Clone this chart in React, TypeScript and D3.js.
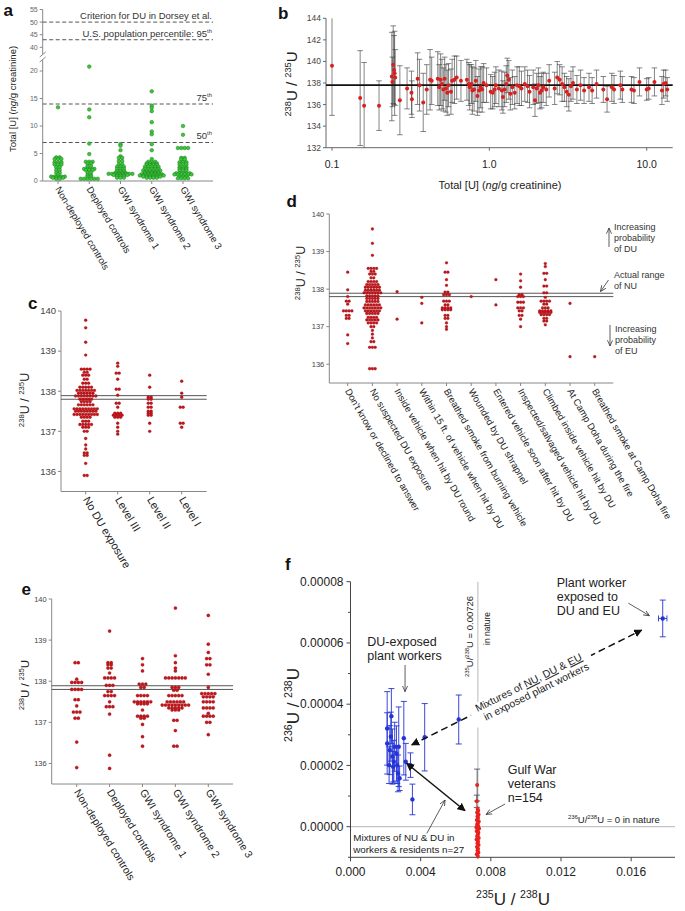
import React from 'react';
import * as d3 from 'd3';

const FONT = '"Liberation Sans", Arial, sans-serif';

// ---------- panel a : total [U] per group ----------
const aGroups = ['Non-deployed controls', 'Deployed controls', 'GWI syndrome 1', 'GWI syndrome 2', 'GWI syndrome 3'];
// [value, number of subjects at that value]
const aValues: [number, number][][] = [
  [[13.4, 1], [4.3, 2], [4.0, 3], [3.4, 3], [3.0, 3], [2.5, 2], [2.0, 2], [1.5, 2], [1.2, 1], [0.8, 5], [0.6, 4], [0.4, 2]],
  [[20.8, 1], [13.0, 1], [11.6, 1], [6.8, 1], [4.9, 1], [3.5, 3], [3.2, 2], [2.7, 2], [2.2, 4], [2.0, 3], [1.5, 2], [1.0, 2], [0.8, 2], [0.4, 6]],
  [[6.7, 1], [6.4, 1], [5.6, 1], [4.5, 1], [4.2, 2], [3.6, 2], [3.0, 2], [2.6, 3], [2.2, 3], [1.8, 3], [1.5, 4], [1.3, 8], [1.1, 5], [0.9, 3], [0.6, 3]],
  [[16.3, 1], [13.7, 1], [13.3, 1], [12.7, 1], [10.7, 1], [9.0, 1], [8.5, 1], [6.7, 1], [5.6, 1], [4.0, 1], [3.5, 3], [3.2, 4], [2.9, 4], [2.6, 5], [2.2, 5], [1.9, 6], [1.6, 5], [1.4, 5], [1.2, 7], [1.0, 8], [0.8, 6], [0.6, 4]],
  [[10.0, 1], [8.4, 1], [6.0, 4], [4.2, 2], [3.9, 2], [3.4, 3], [3.0, 3], [2.5, 3], [2.2, 3], [1.9, 3], [1.4, 5], [1.2, 6], [0.8, 3], [0.5, 4]],
];
const aTicksLow = [0, 5, 10, 15, 20];
const aTicksHigh = [40, 45, 50, 55];
const aRefHigh = [50, 43];
const aRefLow = [14, 7];

// ---------- panel b : ratio vs total U ----------
// [total U, 238/235 ratio, error]
const bPoints: [number, number, number][] = [
  [0.1, 139.6, 4.6], [0.151, 136.6, 4.4], [0.16, 135.9, 4.0], [0.199, 135.9, 2.3],
  [0.24, 138.6, 4.1], [0.242, 138.1, 2.3], [0.245, 139.7, 3.6], [0.248, 139.2, 3.2], [0.25, 138.9, 3.9], [0.252, 138.5, 2.6],
  [0.27, 136.4, 3.2], [0.3, 137.5, 1.9], [0.32, 137.1, 2.0], [0.322, 136.5, 1.7], [0.35, 138.4, 2.4], [0.36, 137.8, 2.4],
  [0.38, 136.2, 2.7], [0.4, 137.4, 2.3], [0.42, 138.3, 2.8], [0.43, 138.2, 2.2],
  [0.47, 138.4, 2.5], [0.48, 137.6, 2.1], [0.49, 138.3, 2.4], [0.5, 137.9, 2.3], [0.51, 137.4, 2.0], [0.52, 138.4, 2.0],
  [0.53, 137.5, 2.2], [0.54, 137.1, 2.1], [0.55, 137.8, 2.0], [0.57, 137.2, 2.1], [0.58, 138.2, 2.0], [0.6, 138.3, 2.2],
  [0.62, 138.5, 2.0], [0.66, 138.2, 1.9],
  [0.72, 138.3, 1.9], [0.74, 137.9, 2.0], [0.75, 137.6, 2.1], [0.77, 137.9, 1.8], [0.78, 137.3, 2.2], [0.8, 137.4, 2.0],
  [0.82, 138.2, 1.9], [0.84, 136.8, 1.8], [0.86, 137.3, 2.0], [0.88, 137.6, 1.9], [0.9, 137.4, 2.1], [0.92, 138.0, 1.8], [0.96, 137.8, 1.6],
  [1.02, 137.2, 1.6], [1.05, 137.1, 1.5], [1.08, 137.4, 1.6], [1.1, 137.8, 1.7], [1.15, 137.5, 1.7], [1.2, 137.3, 1.8],
  [1.22, 136.7, 1.5], [1.25, 137.4, 1.6], [1.28, 137.9, 1.7], [1.3, 138.7, 1.6], [1.33, 138.3, 1.8], [1.36, 137.0, 1.5],
  [1.4, 137.6, 1.6], [1.45, 137.1, 1.5], [1.5, 137.8, 1.7], [1.55, 137.7, 1.8],
  [1.6, 137.5, 1.6], [1.68, 137.9, 1.6], [1.75, 137.7, 1.5], [1.8, 137.2, 1.5], [1.9, 137.6, 1.6], [1.95, 136.4, 1.5],
  [2.0, 137.5, 1.4], [2.05, 137.8, 1.6], [2.1, 137.1, 1.5], [2.15, 137.3, 1.6], [2.2, 137.6, 1.4], [2.3, 137.4, 1.5], [2.4, 138.2, 1.5],
  [2.6, 137.5, 1.5], [2.7, 138.5, 1.5], [2.8, 138.3, 1.4], [2.9, 137.9, 1.6], [3.0, 137.6, 1.3], [3.1, 137.2, 1.4],
  [3.2, 136.9, 1.5], [3.3, 137.7, 1.4], [3.4, 138.0, 1.5], [3.6, 137.4, 1.3], [3.8, 137.8, 1.4], [4.0, 137.3, 1.2],
  [4.3, 137.6, 1.3], [4.5, 137.3, 1.2], [4.8, 137.9, 1.3], [5.3, 137.4, 1.2], [5.6, 136.5, 1.2], [6.0, 137.6, 1.3],
  [6.2, 137.4, 1.3], [6.8, 137.8, 1.3], [7.0, 137.4, 1.2],
  [8.0, 137.4, 1.2], [8.3, 137.3, 1.2], [9.0, 138.1, 1.3], [10.0, 137.4, 1.0], [10.3, 137.5, 1.0], [11.2, 138.1, 1.3],
  [12.5, 137.3, 1.3], [12.8, 137.9, 1.3], [13.2, 138.0, 1.2], [13.5, 137.4, 1.1],
];
const bTicksX = [0.1, 1, 10];
const bTicksY = [132, 134, 136, 138, 140, 142, 144];
const bNatural = 137.8;

// ---------- panels c, d, e : ratio dot plots ----------
const nuRange = [137.8, 137.89];
const ratioTicks = [136, 137, 138, 139, 140];

const cCats = ['No DU exposure', 'Level III', 'Level II', 'Level I'];
const cValues: [number, number][][] = [
  [[139.77, 1], [139.58, 1], [139.22, 1], [138.9, 1], [138.55, 4], [138.47, 2], [138.4, 3], [138.3, 2], [138.2, 3], [138.1, 5],
   [138.02, 7], [137.95, 6], [137.88, 8], [137.8, 5], [137.74, 4], [137.66, 6], [137.56, 9], [137.5, 8], [137.42, 9], [137.35, 4],
   [137.25, 3], [137.17, 5], [137.1, 3], [137.0, 2], [136.82, 1], [136.66, 1], [136.56, 1], [136.46, 2], [136.4, 2], [136.2, 1], [135.9, 2]],
  [[138.7, 1], [138.62, 1], [138.45, 2], [138.3, 1], [138.05, 2], [137.9, 1], [137.7, 2], [137.6, 1], [137.45, 3], [137.4, 4],
   [137.35, 3], [137.2, 1], [137.1, 1], [137.0, 1], [136.93, 1]],
  [[138.4, 1], [138.1, 1], [137.85, 2], [137.8, 2], [137.7, 2], [137.6, 2], [137.5, 2], [137.45, 2], [137.4, 2], [137.2, 1], [137.0, 1]],
  [[138.25, 1], [137.95, 1], [137.85, 1], [137.6, 2], [137.2, 2], [137.1, 1]],
];

const dCats = [
  "Don't know or declined to answer",
  'No suspected DU exposure',
  'Inside vehicle when hit by DU round',
  'Within 15 ft. of vehicle when hit by DU',
  'Breathed smoke from burning vehicle',
  'Wounded by DU shrapnel',
  'Entered vehicle soon after hit by DU',
  'Inspected/salvaged vehicle hit by DU',
  'Climbed inside vehicle hit by DU',
  'At Camp Doha during the fire',
  'Breathed smoke at Camp Doha fire',
];
const dValues: [number, number][][] = [
  [[138.45, 1], [137.98, 1], [137.8, 1], [137.68, 2], [137.6, 1], [137.42, 4], [137.3, 2], [137.22, 2], [136.78, 1], [136.55, 1]],
  [[139.6, 1], [139.22, 1], [138.9, 1], [138.55, 4], [138.47, 2], [138.4, 3], [138.3, 2], [138.2, 4], [138.12, 5], [138.05, 6],
   [137.97, 6], [137.9, 7], [137.82, 5], [137.75, 5], [137.67, 5], [137.58, 6], [137.5, 7], [137.42, 6], [137.35, 5], [137.25, 4],
   [137.18, 5], [137.1, 4], [137.0, 2], [136.9, 1], [136.8, 1], [136.7, 1], [136.6, 2], [136.45, 3], [135.88, 3]],
  [[137.93, 1], [137.2, 1]],
  [[137.78, 1], [137.62, 1], [137.1, 1]],
  [[138.7, 1], [138.45, 2], [138.25, 1], [138.1, 1], [137.92, 2], [137.85, 3], [137.68, 3], [137.58, 2], [137.5, 4], [137.45, 4],
   [137.3, 2], [137.22, 2], [137.1, 1], [137.0, 1], [136.93, 1]],
  [[137.8, 1]],
  [[138.25, 1], [137.58, 1]],
  [[138.4, 1], [138.22, 1], [138.05, 1], [137.85, 2], [137.8, 3], [137.65, 3], [137.5, 3], [137.42, 2], [137.3, 2], [137.2, 1], [137.0, 1]],
  [[138.68, 1], [138.6, 1], [138.42, 2], [138.25, 1], [138.08, 2], [137.9, 2], [137.78, 1], [137.68, 4], [137.6, 2], [137.5, 3],
   [137.42, 5], [137.38, 5], [137.32, 4], [137.22, 2], [137.15, 2], [137.05, 1]],
  [[137.62, 1], [136.2, 1]],
  [[136.2, 1]],
];

const eCats = aGroups;
const eValues: [number, number][][] = [
  [[138.45, 2], [138.05, 1], [137.97, 4], [137.8, 4], [137.55, 2], [137.4, 1], [137.25, 3], [137.1, 2], [136.52, 1], [135.9, 1]],
  [[139.22, 1], [138.45, 2], [138.4, 2], [138.32, 2], [138.2, 1], [138.08, 4], [137.9, 3], [137.75, 2], [137.65, 4], [137.5, 1],
   [137.38, 3], [137.2, 1], [136.2, 1], [135.88, 1]],
  [[138.55, 1], [138.4, 1], [138.25, 1], [137.93, 3], [137.85, 2], [137.65, 4], [137.5, 6], [137.45, 4], [137.3, 1], [137.15, 4],
   [137.1, 2], [136.95, 1], [136.65, 1], [136.42, 1]],
  [[139.78, 1], [138.62, 1], [138.45, 1], [138.32, 1], [138.25, 1], [138.08, 7], [137.85, 3], [137.78, 2], [137.65, 5], [137.5, 6],
   [137.42, 9], [137.35, 5], [137.3, 3], [137.05, 2], [136.8, 1], [136.42, 2]],
  [[139.6, 1], [138.9, 1], [138.7, 1], [138.55, 2], [138.4, 2], [138.17, 1], [137.85, 1], [137.7, 5], [137.62, 4], [137.5, 4],
   [137.35, 4], [137.22, 1], [137.15, 4], [137.0, 2], [136.7, 1]],
];

// ---------- panel f : 236/238 vs 235/238 ----------
// [235/238, 236/238, y error, x error]
const fWorkers: [number, number, number, number][] = [
  [0.00209, 0.0000321, 0.000012, 0], [0.00209, 0.0000272, 0.00001, 0], [0.00224, 0.000025, 0.000008, 0],
  [0.00233, 0.0000361, 0.000009, 0], [0.0023, 0.0000294, 0.000008, 0], [0.00239, 0.0000229, 0.000009, 0],
  [0.00247, 0.0000212, 0.000007, 0], [0.00252, 0.0000261, 0.000008, 0], [0.00262, 0.0000239, 0.000009, 0],
  [0.00266, 0.0000201, 0.000006, 0], [0.00271, 0.0000174, 0.000006, 0], [0.00275, 0.0000261, 0.000013, 0],
  [0.0028, 0.0000158, 0.000004, 0], [0.0022, 0.0000201, 0.000006, 0], [0.00243, 0.0000196, 0.000005, 0],
  [0.00304, 0.0000289, 0.000012, 0], [0.00315, 0.0000212, 0.000006, 0], [0.00342, 0.0000201, 0.000004, 0],
  [0.00353, 0.0000089, 0.000005, 0], [0.00423, 0.0000292, 0.000011, 0], [0.00617, 0.000035, 0.000008, 0],
  [0.0178, 0.000068, 0.000006, 0.00024],
];
const fVeterans: [number, number, number][] = [
  [0.00722, 0.0000136, 0.0000052], [0.0072, 0.0000083, 0.000002], [0.00725, 0.0000058, 0.000001], [0.00728, 0.0000052, 0.000001],
  [0.00722, 0.0000046, 0.000001], [0.0073, 0.000004, 0.000001], [0.00724, 0.0000034, 0.000001], [0.00727, 0.0000028, 0.000001],
  [0.0072, 0.0000022, 0.000001], [0.00731, 0.0000017, 0.000001], [0.00725, 0.0000011, 0.000001], [0.00722, 0.0000006, 0.000001],
  [0.00728, 0.0000002, 0.000001], [0.00718, -0.0000002, 0.000001], [0.00733, -0.0000006, 0.000001], [0.00724, -0.000001, 0.000001],
  [0.0072, -0.0000015, 0.000001], [0.00729, -0.000002, 0.000001], [0.00726, -0.0000026, 0.000001], [0.00722, -0.0000031, 0.000001],
  [0.00731, -0.0000037, 0.000001], [0.00719, -0.0000042, 0.000001], [0.00727, -0.0000048, 0.000001], [0.00724, -0.0000054, 0.000001],
  [0.0073, -0.000006, 0.000001], [0.00721, -0.0000066, 0.000001], [0.00727, -0.0000072, 0.000001], [0.00724, -0.0000078, 0.000001],
  [0.00729, -0.0000084, 0.000001], [0.0072, -0.000009, 0.000001], [0.00726, -0.0000096, 0.000001],
];
const fTicksX = [0, 0.004, 0.008, 0.012, 0.016];
const fTicksY = [0, 0.00002, 0.00004, 0.00006, 0.00008];
const fMinorY = [-0.00001, 0.00001, 0.00003, 0.00005, 0.00007];
const fNatural235 = 0.00726;

// text with superscripts: '^238' means superscript
const Iso = ({ segs, fs }: { segs: string[]; fs: number }) => {
  let shift = 0;
  return (
    <>
      {segs.map((s, i) => {
        const sup = s.startsWith('^');
        const target = sup ? -fs * 0.42 : 0;
        const dy = target - shift;
        shift = target;
        return (
          <tspan key={i} dy={dy} fontSize={sup ? fs * 0.62 : fs}>
            {sup ? s.slice(1) : s}
          </tspan>
        );
      })}
    </>
  );
};

const R85 = ['^238', 'U', ' / ', '^235', 'U'];

const rows = (list: [number, number][], cx: number, y: (v: number) => number, step: number) => {
  const out: { x: number; y: number }[] = [];
  list.forEach(([v, n]) => {
    for (let i = 0; i < n; i++) out.push({ x: cx + (i - (n - 1) / 2) * step, y: y(v) });
  });
  return out;
};

const PanelA = () => {
  const yLow = d3.scaleLinear().domain([0, 22]).range([181, 60]);
  const yHigh = d3.scaleLinear().domain([40, 55]).range([47.3, 9.5]);
  const x = d3.scalePoint<string>().domain(aGroups).range([58, 183]);
  const L = 42.7, R = 213, B = 181;
  const ax = '#888';
  return (
    <g fontFamily={FONT}>
      <line x1={L} x2={L} y1={9.5} y2={54} stroke={ax} />
      <line x1={L} x2={L} y1={60} y2={B} stroke={ax} />
      <line x1={L - 3} x2={L + 3} y1={57} y2={52} stroke={ax} />
      <line x1={L - 3} x2={L + 3} y1={62} y2={57} stroke={ax} />
      <line x1={L} x2={R} y1={B} y2={B} stroke={ax} />
      {aTicksHigh.map((t) => (
        <g key={'h' + t}>
          <line x1={L - 3} x2={L} y1={yHigh(t)} y2={yHigh(t)} stroke={ax} />
          <text x={L - 5} y={yHigh(t)} dy="0.35em" textAnchor="end" fontSize={7} fill="#666">{t}</text>
        </g>
      ))}
      {aTicksLow.map((t) => (
        <g key={'l' + t}>
          <line x1={L - 3} x2={L} y1={yLow(t)} y2={yLow(t)} stroke={ax} />
          <text x={L - 5} y={yLow(t)} dy="0.35em" textAnchor="end" fontSize={7} fill="#666">{t}</text>
        </g>
      ))}
      {aRefHigh.map((v) => (
        <line key={'rh' + v} x1={L} x2={R} y1={yHigh(v)} y2={yHigh(v)} stroke="#555" strokeDasharray="4,2.5" />
      ))}
      {aRefLow.map((v) => (
        <line key={'rl' + v} x1={L} x2={R} y1={yLow(v)} y2={yLow(v)} stroke="#555" strokeDasharray="4,2.5" />
      ))}
      <text x={212} y={yHigh(50) - 3.5} textAnchor="end" fontSize={9.5} fill="#333">Criterion for DU in Dorsey et al.</text>
      <text x={212} y={yHigh(43) - 3} textAnchor="end" fontSize={9.5} fill="#333">
        <Iso segs={['U.S. population percentile: 95', '^th']} fs={9.5} />
      </text>
      <text x={212} y={yLow(14) - 3.5} textAnchor="end" fontSize={9.5} fill="#333">
        <Iso segs={['75', '^th']} fs={9.5} />
      </text>
      <text x={212} y={yLow(7) - 3.5} textAnchor="end" fontSize={9.5} fill="#333">
        <Iso segs={['50', '^th']} fs={9.5} />
      </text>
      {aGroups.map((g, i) =>
        rows(aValues[i], x(g)!, yLow, 3.4).map((p, j) => (
          <circle key={g + j} cx={p.x} cy={p.y} r={1.8} fill="#3cc83c" stroke="#1d7a1d" strokeWidth={0.5} />
        ))
      )}
      {aGroups.map((g) => (
        <g key={'t' + g}>
          <line x1={x(g)} x2={x(g)} y1={B} y2={B + 3} stroke={ax} />
          <text transform={`translate(${x(g)! - 3},${B + 8}) rotate(59)`} fontSize={9.5} fill="#222">{g}</text>
        </g>
      ))}
      <text transform="translate(16,99) rotate(-90)" textAnchor="middle" fontSize={9.5} fill="#222">
        Total [U] (<tspan fontStyle="italic">ng</tspan>/g creatinine)
      </text>
    </g>
  );
};

const PanelB = () => {
  const x = d3.scaleLog().domain([0.1, 10]).range([332, 646.7]);
  const y = d3.scaleLinear().domain([132, 144]).range([147.7, 18.3]);
  const L = 326, R = 672.7, B = 147.7;
  const cl = (v: number) => Math.max(132, Math.min(144, v));
  return (
    <g fontFamily={FONT}>
      <line x1={L} x2={L} y1={18.3} y2={B} stroke="#666" />
      <line x1={L} x2={R} y1={B} y2={B} stroke="#666" />
      {bTicksY.map((t) => (
        <g key={t}>
          <line x1={L - 3} x2={L} y1={y(t)} y2={y(t)} stroke="#666" />
          <text x={L - 5} y={y(t)} dy="0.35em" textAnchor="end" fontSize={8.5} fill="#444">{t}</text>
        </g>
      ))}
      {bTicksX.map((t) => (
        <g key={t}>
          <line x1={x(t)} x2={x(t)} y1={B} y2={B + 3} stroke="#666" />
          <text x={x(t)} y={B + 20} textAnchor="middle" fontSize={10.5} fill="#222">{t.toFixed(1)}</text>
        </g>
      ))}
      {bPoints.map(([u, r, e], i) => (
        <g key={i} stroke="#333" strokeWidth={0.7} opacity={0.85}>
          <line x1={x(u)} x2={x(u)} y1={y(cl(r - e))} y2={y(cl(r + e))} />
          {r + e < 144 && <line x1={x(u) - 2.8} x2={x(u) + 2.8} y1={y(r + e)} y2={y(r + e)} />}
          {r - e > 132 && <line x1={x(u) - 2.8} x2={x(u) + 2.8} y1={y(r - e)} y2={y(r - e)} />}
        </g>
      ))}
      <line x1={L} x2={R} y1={y(bNatural)} y2={y(bNatural)} stroke="#111" strokeWidth={1.8} />
      {bPoints.map(([u, r], i) => (
        <circle key={'p' + i} cx={x(u)} cy={y(r)} r={2} fill="#d9201e" />
      ))}
      <text transform="translate(297,84) rotate(-90)" textAnchor="middle" fill="#222">
        <Iso segs={R85} fs={15} />
      </text>
      <text x={500} y={189} textAnchor="middle" fontSize={11} fill="#222">
        Total [U] (<tspan fontStyle="italic">ng</tspan>/g creatinine)
      </text>
    </g>
  );
};

interface DotProps {
  cats: string[];
  values: [number, number][][];
  left: number;
  right: number;
  top: number;
  bottom: number;
  first: number;
  last: number;
  tickFs: number;
  labelFs: number;
  angle: number;
  r: number;
  step: number;
}

const RatioDots = ({ cats, values, left, right, top, bottom, first, last, tickFs, labelFs, angle, r, step }: DotProps) => {
  const y = d3.scaleLinear().domain([135.5, 140]).range([bottom, top]);
  const x = d3.scalePoint<string>().domain(cats).range([first, last]);
  const ax = '#888';
  return (
    <g fontFamily={FONT}>
      <line x1={left} x2={left} y1={top} y2={bottom} stroke={ax} />
      <line x1={left} x2={right} y1={bottom} y2={bottom} stroke={ax} />
      {ratioTicks.map((t) => (
        <g key={t}>
          <line x1={left - 3} x2={left} y1={y(t)} y2={y(t)} stroke={ax} />
          <text x={left - 5} y={y(t)} dy="0.35em" textAnchor="end" fontSize={tickFs} fill="#444">{t}</text>
        </g>
      ))}
      {nuRange.map((v) => (
        <line key={v} x1={left} x2={right} y1={y(v)} y2={y(v)} stroke="#444" strokeWidth={0.9} />
      ))}
      {cats.map((c, i) =>
        rows(values[i], x(c)!, y, step).map((p, j) => (
          <circle key={c + j} cx={p.x} cy={p.y} r={r} fill="#c4161c" stroke="#8e0d10" strokeWidth={0.3} />
        ))
      )}
      {cats.map((c) => (
        <g key={'l' + c}>
          <line x1={x(c)} x2={x(c)} y1={bottom} y2={bottom + 3} stroke={ax} />
          <text transform={`translate(${x(c)! - 3},${bottom + 8}) rotate(${angle})`} fontSize={labelFs} fill="#222">{c}</text>
        </g>
      ))}
    </g>
  );
};

const PanelF = () => {
  const x = d3.scaleLinear().domain([0, 0.0185]).range([350.5, 675]);
  const y = d3.scaleLinear().domain([-0.00001, 0.00008]).range([857.3, 581.7]);
  const L = 350.5, R = 675, B = 857.3;
  const fy = d3.format('.5f');
  const fx = d3.format('.3f');
  const blue = '#2433d6';
  const red = '#e8221f';
  // annotation anchors in data units
  const dash = [[0.00349, 0.0000267], [0.0166, 0.0000642]];
  const solid = [[0.0032, 0.0000207], [0.00653, 0.0000052]];
  const px = (p: number[]) => [x(p[0]), y(p[1])];
  const [d0, d1] = dash.map(px);
  const ang = (Math.atan2(d1[1] - d0[1], d1[0] - d0[0]) * 180) / Math.PI;
  const mid = [d0[0] + (d1[0] - d0[0]) * 0.515, d0[1] + (d1[1] - d0[1]) * 0.515];
  const [s0, s1] = solid.map(px);
  const thin = (a: number[], b: number[], key: string) => {
    const [p, q] = [px(a), px(b)];
    return <line key={key} x1={p[0]} y1={p[1]} x2={q[0]} y2={q[1]} stroke="#333" strokeWidth={0.8} markerEnd="url(#vee)" />;
  };
  return (
    <g fontFamily={FONT}>
      <line x1={x(fNatural235)} x2={x(fNatural235)} y1={581.7} y2={B} stroke="#c4c4c4" strokeWidth={1.2} />
      <line x1={L} x2={R} y1={y(0)} y2={y(0)} stroke="#c4c4c4" strokeWidth={1.2} />
      <line x1={L} x2={L} y1={581.7} y2={B} stroke="#444" />
      <line x1={L} x2={R} y1={B} y2={B} stroke="#444" />
      {fTicksY.map((t) => (
        <g key={t}>
          <line x1={L - 4} x2={L} y1={y(t)} y2={y(t)} stroke="#444" />
          <text x={L - 7} y={y(t)} dy="0.35em" textAnchor="end" fontSize={12} fill="#222">{fy(t)}</text>
        </g>
      ))}
      {fMinorY.map((t) => (
        <line key={t} x1={L - 2.5} x2={L} y1={y(t)} y2={y(t)} stroke="#444" />
      ))}
      {fTicksX.map((t) => (
        <g key={t}>
          <line x1={x(t)} x2={x(t)} y1={B} y2={B + 4} stroke="#444" />
          <text x={x(t)} y={B + 19} textAnchor="middle" fontSize={12} fill="#222">{fx(t)}</text>
        </g>
      ))}
      {fWorkers.map(([u5, u6, e, ex], i) => (
        <g key={'w' + i} stroke={blue} strokeWidth={0.9}>
          <line x1={x(u5)} x2={x(u5)} y1={y(u6 - e)} y2={y(u6 + e)} />
          <line x1={x(u5) - 3} x2={x(u5) + 3} y1={y(u6 - e)} y2={y(u6 - e)} />
          <line x1={x(u5) - 3} x2={x(u5) + 3} y1={y(u6 + e)} y2={y(u6 + e)} />
          {ex > 0 && (
            <>
              <line x1={x(u5 - ex)} x2={x(u5 + ex)} y1={y(u6)} y2={y(u6)} />
              <line x1={x(u5 - ex)} x2={x(u5 - ex)} y1={y(u6) - 3} y2={y(u6) + 3} />
              <line x1={x(u5 + ex)} x2={x(u5 + ex)} y1={y(u6) - 3} y2={y(u6) + 3} />
            </>
          )}
        </g>
      ))}
      {fWorkers.map(([u5, u6], i) => (
        <circle key={'wp' + i} cx={x(u5)} cy={y(u6)} r={2.2} fill={blue} />
      ))}
      {fVeterans.map(([u5, u6, e], i) => (
        <g key={'v' + i} stroke={i < 2 ? '#555' : red} strokeWidth={0.9}>
          <line x1={x(u5)} x2={x(u5)} y1={y(u6 - e)} y2={Math.max(581.7, y(u6 + e))} />
          {i < 2 && <line x1={x(u5) - 3} x2={x(u5) + 3} y1={y(u6 + e)} y2={y(u6 + e)} />}
          {i < 2 && <line x1={x(u5) - 3} x2={x(u5) + 3} y1={y(u6 - e)} y2={y(u6 - e)} />}
        </g>
      ))}
      {fVeterans.map(([u5, u6], i) => (
        <circle key={'vp' + i} cx={x(u5)} cy={y(u6)} r={2} fill={red} />
      ))}
      <line x1={d0[0]} y1={d0[1]} x2={d1[0]} y2={d1[1]} stroke="#111" strokeWidth={1.5} strokeDasharray="7,4"
        markerStart="url(#tri)" markerEnd="url(#tri)" />
      <line x1={s0[0]} y1={s0[1]} x2={s1[0]} y2={s1[1]} stroke="#111" strokeWidth={1.5}
        markerStart="url(#tri)" markerEnd="url(#tri)" />
      <g transform={`translate(${mid[0]},${mid[1]}) rotate(${ang})`} fontSize={10.5} fill="#222">
        <rect x={-66} y={-9} width={134} height={23} fill="#fff" />
        <text x={0} y={0} textAnchor="middle">
          Mixtures of <tspan textDecoration="underline">NU</tspan>, <tspan textDecoration="underline">DU</tspan> &amp;{' '}
          <tspan textDecoration="underline">EU</tspan>
        </text>
        <text x={3} y={11.5} textAnchor="middle">in exposed plant workers</text>
      </g>
      {thin([0.00311, 0.0000528], [0.00311, 0.0000441], 'a1')}
      {thin([0.01584, 0.000073], [0.01704, 0.0000689], 'a2')}
      {thin([0.00881, 0.0000074], [0.00773, 0.000004], 'a3')}
      {thin([0.00435, -0.0000022], [0.00539, 0.0000087], 'a4')}
      <g fontSize={12.5} fill="#222">
        <text x={367.3} y={646}>DU-exposed</text>
        <text x={367.3} y={659.5}>plant workers</text>
        <text x={556.7} y={587}>Plant worker</text>
        <text x={556.7} y={601}>exposed to</text>
        <text x={556.7} y={615}>DU and EU</text>
        <text x={507.7} y={773.5}>Gulf War</text>
        <text x={507.7} y={787.5}>veterans</text>
        <text x={507.7} y={801.5}>n=154</text>
      </g>
      <g fontSize={9.8} fill="#222">
        <text x={353.3} y={841}>Mixtures of NU &amp; DU in</text>
        <text x={353.3} y={852.5}>workers &amp; residents n=27</text>
      </g>
      <text x={568} y={823} fontSize={9.5} fill="#222">
        <Iso segs={['^236', 'U/', '^238', 'U = 0 in nature']} fs={9.5} />
      </text>
      <text transform="translate(472.5,677) rotate(-90)" fontSize={9.5} fill="#222">
        <Iso segs={['^235', 'U/', '^238', 'U = 0.00726']} fs={9.5} />
      </text>
      <text transform="translate(489.5,645) rotate(-90)" fontSize={8.5} fill="#222">in nature</text>
      <text transform="translate(299,705) rotate(-90)" textAnchor="middle" fill="#222">
        <Iso segs={['^236', 'U / ', '^238', 'U']} fs={17} />
      </text>
      <text x={513} y={905} textAnchor="middle" fill="#222">
        <Iso segs={['^235', 'U / ', '^238', 'U']} fs={17} />
      </text>
    </g>
  );
};

const App = () => {
  return (
    <svg width={685} height={911} viewBox="0 0 685 911" style={{ position: 'absolute', left: 0, top: 0, background: '#fff' }}>
      <defs>
        <marker id="tri" viewBox="0 0 10 10" refX="9" refY="5" markerWidth="5.5" markerHeight="5.5" orient="auto-start-reverse">
          <path d="M0,0L10,5L0,10z" fill="#111" />
        </marker>
        <marker id="vee" viewBox="0 0 10 10" refX="9" refY="5" markerWidth="8" markerHeight="8" orient="auto">
          <path d="M0,1L9,5L0,9" fill="none" stroke="#333" strokeWidth="1.2" />
        </marker>
      </defs>
      <rect width={685} height={911} fill="#fff" />
      <PanelA />
      <PanelB />
      <RatioDots cats={cCats} values={cValues} left={61} right={206.7} top={311} bottom={491.5}
        first={85.7} last={181.7} tickFs={9.5} labelFs={11} angle={59} r={1.45} step={2.9} />
      <RatioDots cats={dCats} values={dValues} left={329.3} right={613.3} top={214} bottom={383}
        first={347.7} last={594.7} tickFs={7.5} labelFs={9.5} angle={60} r={1.4} step={2.8} />
      <RatioDots cats={eCats} values={eValues} left={51.7} right={233} top={599} bottom={784}
        first={76.7} last={208.3} tickFs={7.5} labelFs={10.5} angle={58} r={1.6} step={3.3} />
      <PanelF />
      <g fontFamily={FONT} fill="#222">
        <text transform="translate(29,400) rotate(-90)" textAnchor="middle"><Iso segs={R85} fs={12.5} /></text>
        <text transform="translate(305,273) rotate(-90)" textAnchor="middle"><Iso segs={R85} fs={12.5} /></text>
        <text transform="translate(28.5,685) rotate(-90)" textAnchor="middle"><Iso segs={R85} fs={11.5} /></text>
      </g>
      <g fontFamily={FONT} fontSize={9} fill="#333">
        <line x1={609} x2={609} y1={247} y2={228} stroke="#333" strokeWidth={0.8} markerEnd="url(#vee)" />
        <text x={614} y={229.5}>Increasing</text>
        <text x={614} y={241}>probability</text>
        <text x={614} y={252}>of DU</text>
        <line x1={608.5} y1={280} x2={600.5} y2={291.5} stroke="#333" strokeWidth={0.8} markerEnd="url(#vee)" />
        <text x={614} y={277.5}>Actual range</text>
        <text x={614} y={288.5}>of NU</text>
        <line x1={610} x2={610} y1={325} y2={346} stroke="#333" strokeWidth={0.8} markerEnd="url(#vee)" />
        <text x={615} y={332}>Increasing</text>
        <text x={615} y={343}>probability</text>
        <text x={615} y={354}>of EU</text>
      </g>
      <g fontFamily={FONT} fontWeight="bold" fontSize={17} fill="#111">
        <text x={3.5} y={16}>a</text>
        <text x={278} y={18.5}>b</text>
        <text x={28} y={308.5}>c</text>
        <text x={286.5} y={206.5}>d</text>
        <text x={21.5} y={595}>e</text>
        <text x={285} y={570}>f</text>
      </g>
    </svg>
  );
};

export default App;
